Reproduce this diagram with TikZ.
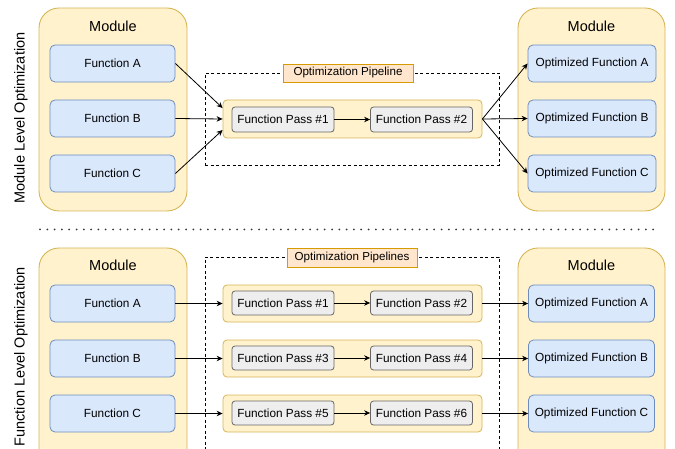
\documentclass[tikz,border=0pt]{standalone}
\usepackage{fontspec}
\setmainfont{Liberation Sans}
\usetikzlibrary{arrows.meta}
\definecolor{modfill}{HTML}{FFF2CC}
\definecolor{moddraw}{HTML}{D6B656}
\definecolor{funfill}{HTML}{DAE8FC}
\definecolor{fundraw}{HTML}{6C8EBF}
\definecolor{passfill}{HTML}{EEEEEE}
\definecolor{passdraw}{HTML}{666666}
\definecolor{tagfill}{HTML}{FFE6CC}
\definecolor{tagdraw}{HTML}{D79B00}
\begin{document}
\begin{tikzpicture}[x=1pt,y=-1pt,>={Stealth[length=6pt,width=5.5pt]},line width=0.8pt]

\tikzset{
module/.style={rectangle,rounded corners=20pt,minimum width=148pt,draw=moddraw,fill=modfill,line width=0.9pt},
func/.style={rectangle,rounded corners=5pt,minimum height=37pt,draw=fundraw,fill=funfill,font=\fontsize{11.8}{14}\selectfont},
pipe/.style={rectangle,rounded corners=4pt,minimum width=259pt,minimum height=37pt,draw=moddraw,fill=modfill},
pass/.style={rectangle,rounded corners=3pt,minimum width=102pt,minimum height=25pt,inner sep=1pt,draw=passdraw,fill=passfill,font=\fontsize{11.8}{14}\selectfont},
frame/.style={rectangle,draw,dash pattern=on 3pt off 2.5pt,line width=0.7pt,minimum width=294pt},
tag/.style={rectangle,minimum width=130pt,minimum height=18pt,inner sep=0pt,draw=tagdraw,fill=tagfill,font=\fontsize{11.6}{14}\selectfont},
title/.style={font=\fontsize{14.5}{17}\selectfont}
}

\clip (0,0) rectangle (675,449);

\node[rotate=90,title] (lvl-module) at (21,118) {Module Level Optimization};
\node[rotate=90,title] (lvl-function) at (21,357) {Function Level Optimization};

\node[module,minimum height=203pt] (mod-in) at (113,109.5) {};
\node[title] at (113,26) {Module};
\node[func,minimum width=125pt] (fun-a) at (112.5,63.5) {Function A};
\node[func,minimum width=125pt] (fun-b) at (112.5,118.5) {Function B};
\node[func,minimum width=125pt] (fun-c) at (112.5,173.5) {Function C};

\node[module,minimum width=147pt,minimum height=203pt] (mod-out) at (591.5,109.5) {};
\node[title] at (591.5,26) {Module};
\node[func,minimum width=128pt] (opt-a) at (592,63.5) {Optimized Function A};
\node[func,minimum width=128pt] (opt-b) at (592,118.5) {Optimized Function B};
\node[func,minimum width=128pt] (opt-c) at (592,173.5) {Optimized Function C};

\node[frame,minimum height=92pt] (frame) at (352,119) {};
\node[tag] (tag) at (348,73) {Optimization Pipeline};
\node[pipe,minimum height=38pt] (pipe) at (352.5,119) {};
\node[pass] (pass-1) at (283,119.5) {Function Pass \#1};
\node[pass] (pass-2) at (421.5,119.5) {Function Pass \#2};

\draw[->] (fun-a.east)--([yshift=11pt]pipe.west);
\draw[->] (fun-b.east)--(pipe.west);
\draw[->] (fun-c.east)--([yshift=-11pt]pipe.west);
\draw[->] (pass-1)--(pass-2);
\draw[->] (pipe.east)--(opt-a.west);
\draw[->] (pipe.east)--(opt-b.west);
\draw[->] (pipe.east)--(opt-c.west);

\coordinate (sep-l) at (40,229.5);
\coordinate (sep-r) at (660,229.5);
\draw[gray!45!black,line width=2pt,line cap=round,dash pattern=on 0pt off 7.3pt] (sep-l)--(sep-r);

\node[module,minimum height=222pt] (mod-in2) at (113,359) {};
\node[title] at (113,265) {Module};
\node[func,minimum width=125pt] (fun-a2) at (112.5,303.5) {Function A};
\node[func,minimum width=125pt] (fun-b2) at (112.5,358.5) {Function B};
\node[func,minimum width=125pt] (fun-c2) at (112.5,413.5) {Function C};

\node[module,minimum width=147pt,minimum height=222pt] (mod-out2) at (591.5,359) {};
\node[title] at (591.5,265) {Module};
\node[func,minimum width=126pt] (opt-a2) at (591.5,303.5) {Optimized Function A};
\node[func,minimum width=126pt] (opt-b2) at (591.5,358.5) {Optimized Function B};
\node[func,minimum width=126pt] (opt-c2) at (591.5,413.5) {Optimized Function C};

\node[frame,minimum height=223pt] (frame2) at (352,368.5) {};
\node[tag,minimum height=19pt] (tag2) at (352,257.5) {Optimization Pipelines};

\node[pipe] (pipe-a) at (352.5,303.5) {};
\node[pipe] (pipe-b) at (352.5,358.5) {};
\node[pipe] (pipe-c) at (352.5,413.5) {};
\node[pass,minimum height=24pt] (pass-1b) at (283,303) {Function Pass \#1};
\node[pass,minimum height=24pt] (pass-2b) at (421.5,303) {Function Pass \#2};
\node[pass,minimum height=24pt] (pass-3) at (283,358) {Function Pass \#3};
\node[pass,minimum height=24pt] (pass-4) at (421.5,358) {Function Pass \#4};
\node[pass,minimum height=24pt] (pass-5) at (283,413) {Function Pass \#5};
\node[pass,minimum height=24pt] (pass-6) at (421.5,413) {Function Pass \#6};

\draw[->] (fun-a2.east)--(pipe-a.west);
\draw[->] (fun-b2.east)--(pipe-b.west);
\draw[->] (fun-c2.east)--(pipe-c.west);
\draw[->] (pass-1b)--(pass-2b);
\draw[->] (pass-3)--(pass-4);
\draw[->] (pass-5)--(pass-6);
\draw[->] (pipe-a.east)--(opt-a2.west);
\draw[->] (pipe-b.east)--(opt-b2.west);
\draw[->] (pipe-c.east)--(opt-c2.west);

\end{tikzpicture}
\end{document}
